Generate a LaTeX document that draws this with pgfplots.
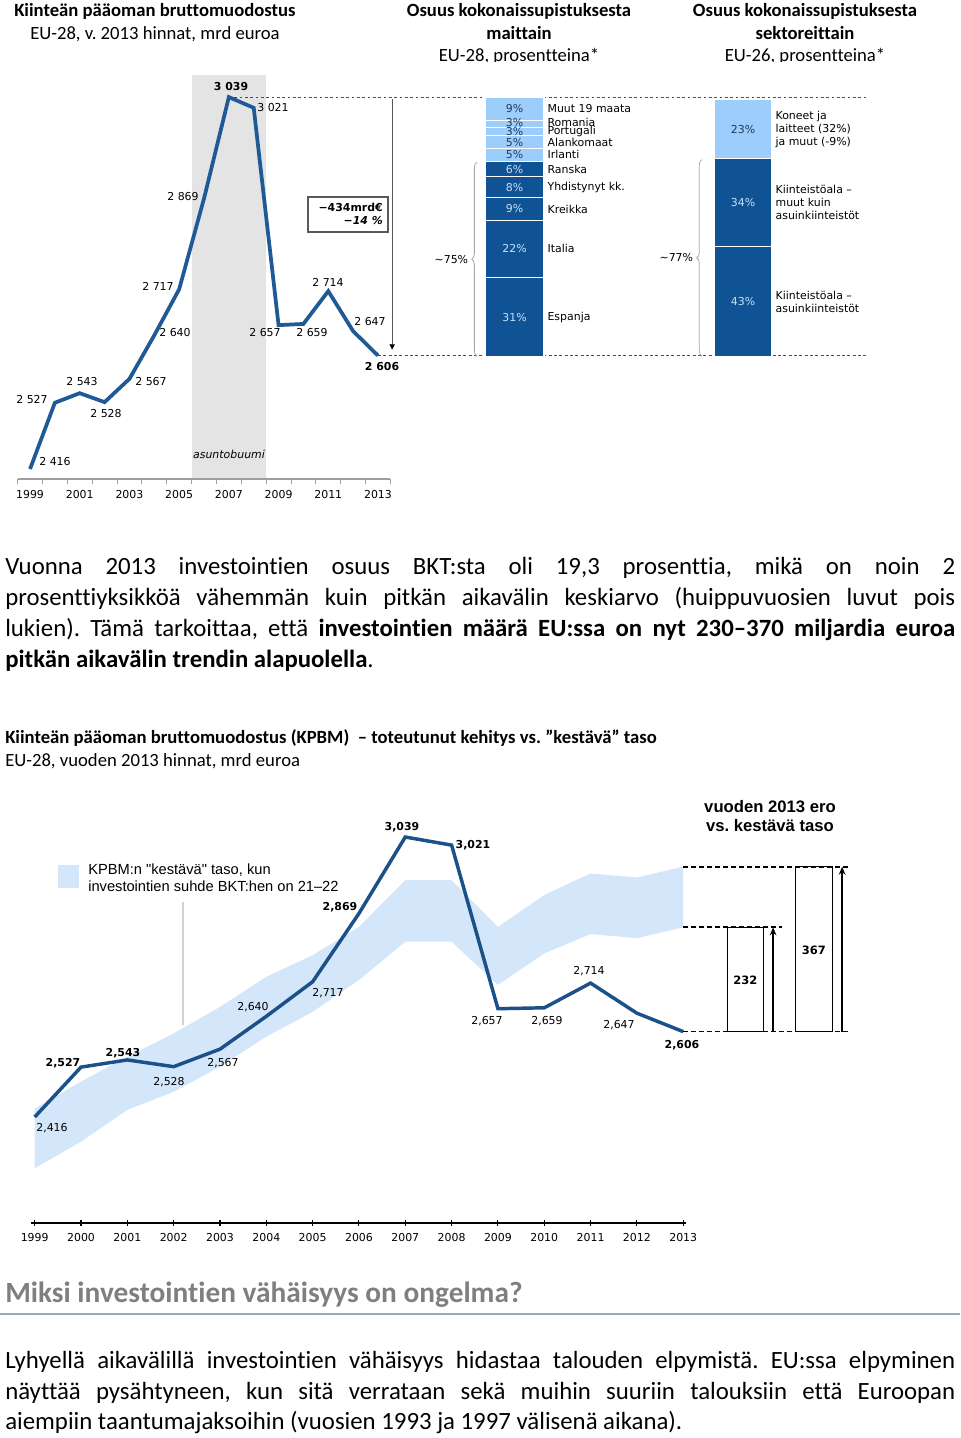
\documentclass[border=0pt]{standalone}
\usepackage{pgfplots}
\pgfplotsset{compat=1.18}
\usepackage{fontspec}
\setmainfont{Carlito}[Ligatures={NoCommon}]
\newfontfamily\dv{DejaVu Sans}
\newfontfamily\ls{Liberation Sans}
\usetikzlibrary{decorations.pathreplacing,arrows.meta}
\definecolor{lineA}{HTML}{1F5A96}
\definecolor{lineB}{HTML}{1B5089}
\definecolor{darkbar}{HTML}{105394}
\definecolor{lightbar}{HTML}{9DCDFB}
\definecolor{navytxt}{HTML}{1F3A60}
\definecolor{paletxt}{HTML}{C6DFF7}
\definecolor{boom}{HTML}{E4E4E4}
\definecolor{band}{HTML}{D3E6FA}
\definecolor{headgrey}{HTML}{7F7F7F}
\definecolor{rulecol}{HTML}{95A9BF}
\newcommand{\sz}[1]{\fontsize{#1}{#1}\selectfont}
\newcommand{\dq}{\char"22\relax}
\frenchspacing
\tikzset{
 lab/.style={font=\dv\sz{8.2},inner sep=0pt},
 labb/.style={font=\dv\bfseries\sz{8.2},inner sep=0pt},
 pctL/.style={font=\dv\sz{8.2},text=navytxt,inner sep=0pt},
 pctD/.style={font=\dv\sz{8.2},text=paletxt,inner sep=0pt},
 nm/.style={font=\dv\sz{8.2},anchor=west,inner sep=0pt,xshift=2.5pt},
 nmm/.style={font=\dv\fontsize{8.2}{9.75}\selectfont,anchor=west,align=left,inner sep=0pt,xshift=2.5pt},
}
\begin{document}
\begin{tikzpicture}[x=0.75pt,y=-0.75pt]
\useasboundingbox (0,0) rectangle (960,1438);
\coordinate (A1) at (17.6,479);
\coordinate (A2) at (400.25,357);
\coordinate (A3) at (31,1223);

% ---------------- titles of the top panels
\node[anchor=mid west,font=\bfseries\sz{14},inner sep=0pt] at (14,13) {Kiinteän pääoman bruttomuodostus};
\node[anchor=mid west,font=\sz{14},inner sep=0pt] at (30,36) {EU-28, v. 2013 hinnat, mrd euroa};
\node[anchor=mid,font=\bfseries\sz{14},inner sep=0pt] at (519,13) {Osuus kokonaissupistuksesta};
\node[anchor=mid,font=\bfseries\sz{14},inner sep=0pt] at (519,36) {maittain};
\node[anchor=mid,font=\sz{14},inner sep=0pt] at (519,58) {EU-28, prosentteina*};
\node[anchor=mid,font=\bfseries\sz{14},inner sep=0pt] at (805,13) {Osuus kokonaissupistuksesta};
\node[anchor=mid,font=\bfseries\sz{14},inner sep=0pt] at (805,36) {sektoreittain};
\node[anchor=mid,font=\sz{14},inner sep=0pt] at (805,58) {EU-26, prosentteina*};
\fill[white] (380,62.5) rectangle (960,72);

% ---------------- top line chart
\begin{axis}[at={(A1)},anchor=south west,scale only axis,
  width=279.6pt,height=303pt,
  xmin=1998.5,xmax=2013.5,ymin=2399.25,ymax=3076,
  clip=false,axis on top,
  axis y line=none,axis x line*=bottom,
  axis line style={draw=gray!75,line width=0.8pt,-},
  xtick={1999,2001,2003,2005,2007,2009,2011,2013},
  xticklabels={1999,2001,2003,2005,2007,2009,2011,2013},
  minor xtick={1998.5,1999.5,...,2013.5},
  major tick length=0pt,minor tick length=3.5pt,
  tick align=outside,tick style={gray!75,line width=0.6pt},
  xticklabel style={font=\dv\sz{8.2},yshift=-5pt},
  /pgf/number format/assume math mode=true]
\addplot[fill=boom,draw=none] coordinates {(2005.5,2399.25)(2008.5,2399.25)(2008.5,3076)(2005.5,3076)} -- cycle;
\addplot[gray!60!black,line width=0.6pt,dash pattern=on 2.2pt off 1.8pt] coordinates {(2007,3039)(2032.68,3039)};
\addplot[gray!60!black,line width=0.6pt,dash pattern=on 2.2pt off 1.8pt] coordinates {(2013,2606)(2032.68,2606)};
\addplot[gray!70!black,line width=0.6pt,-{Triangle[black,length=4pt,width=4pt]}] coordinates {(2013.57,3036)(2013.57,2616)};
\addplot[lineA,line width=2.8pt] coordinates {(1999,2416)(2000,2527)(2001,2543)(2002,2528)(2003,2567)(2004,2640)(2005,2717)(2006,2869)(2007,3039)(2008,3021)(2009,2657)(2010,2659)(2011,2714)(2012,2647)(2013,2606)};
\end{axis}
\node[lab] at (55,462) {2 416};
\node[lab] at (32,400) {2 527};
\node[lab] at (82,382) {2 543};
\node[lab] at (106,414) {2 528};
\node[lab] at (151,382) {2 567};
\node[lab] at (175,333) {2 640};
\node[lab] at (158,286) {2 717};
\node[lab] at (183,197) {2 869};
\node[labb] at (231,87) {3 039};
\node[lab] at (273,108) {3 021};
\node[lab] at (265,333) {2 657};
\node[lab] at (312,333) {2 659};
\node[lab] at (328,282) {2 714};
\node[lab] at (370,322) {2 647};
\node[labb] at (382,367) {2 606};
\node[font=\dv\itshape\sz{8.2},inner sep=0pt] at (229,454) {asuntobuumi};
\draw[gray!70!black,line width=0.8pt] (308,197) rectangle (388,232);
\node[anchor=mid east,font=\dv\bfseries\sz{8.2},inner sep=0pt] at (383,208) {−434mrd€};
\node[anchor=mid east,font=\dv\bfseries\itshape\sz{8.2},inner sep=0pt] at (383,221) {−14 \%};

% ---------------- stacked bars
\begin{axis}[at={(A2)},anchor=south west,scale only axis,
  width=342.75pt,height=195pt,xmin=-0.5,xmax=1.5,ymin=0,ymax=101,
  hide axis,clip=false]
% bar 1: maittain
\addplot[fill=darkbar,draw=white,line width=0.9pt] coordinates {(-0.129,0)(0.129,0)(0.129,31)(-0.129,31)} -- cycle;
\addplot[fill=darkbar,draw=white,line width=0.9pt] coordinates {(-0.129,31)(0.129,31)(0.129,53)(-0.129,53)} -- cycle;
\addplot[fill=darkbar,draw=white,line width=0.9pt] coordinates {(-0.129,53)(0.129,53)(0.129,62)(-0.129,62)} -- cycle;
\addplot[fill=darkbar,draw=white,line width=0.9pt] coordinates {(-0.129,62)(0.129,62)(0.129,70)(-0.129,70)} -- cycle;
\addplot[fill=darkbar,draw=white,line width=0.9pt] coordinates {(-0.129,70)(0.129,70)(0.129,76)(-0.129,76)} -- cycle;
\addplot[fill=lightbar,draw=white,line width=0.9pt] coordinates {(-0.129,76)(0.129,76)(0.129,81)(-0.129,81)} -- cycle;
\addplot[fill=lightbar,draw=white,line width=0.9pt] coordinates {(-0.129,81)(0.129,81)(0.129,86)(-0.129,86)} -- cycle;
\addplot[fill=lightbar,draw=white,line width=0.9pt] coordinates {(-0.129,86)(0.129,86)(0.129,89)(-0.129,89)} -- cycle;
\addplot[fill=lightbar,draw=white,line width=0.9pt] coordinates {(-0.129,89)(0.129,89)(0.129,92)(-0.129,92)} -- cycle;
\addplot[fill=lightbar,draw=white,line width=0.9pt] coordinates {(-0.129,92)(0.129,92)(0.129,101)(-0.129,101)} -- cycle;
% bar 2: sektoreittain
\addplot[fill=darkbar,draw=white,line width=0.9pt] coordinates {(0.873,0)(1.127,0)(1.127,43)(0.873,43)} -- cycle;
\addplot[fill=darkbar,draw=white,line width=0.9pt] coordinates {(0.873,43)(1.127,43)(1.127,77)(0.873,77)} -- cycle;
\addplot[fill=lightbar,draw=white,line width=0.9pt] coordinates {(0.873,77)(1.127,77)(1.127,100)(0.873,100)} -- cycle;
% percentages
\node[pctD] at (axis cs:0,15.5) {31\%};
\node[pctD] at (axis cs:0,42) {22\%};
\node[pctD] at (axis cs:0,57.5) {9\%};
\node[pctD] at (axis cs:0,66) {8\%};
\node[pctD] at (axis cs:0,73) {6\%};
\node[pctL] at (axis cs:0,78.5) {5\%};
\node[pctL] at (axis cs:0,83.5) {5\%};
\node[pctL] at (axis cs:0,87.5) {3\%};
\node[pctL] at (axis cs:0,91) {3\%};
\node[pctL] at (axis cs:0,96.5) {9\%};
\node[pctD] at (axis cs:1,21.5) {43\%};
\node[pctD] at (axis cs:1,60) {34\%};
\node[pctL] at (axis cs:1,88.5) {23\%};
% names
\node[nm] at (axis cs:0.129,15.5) {Espanja};
\node[nm] at (axis cs:0.129,42) {Italia};
\node[nm] at (axis cs:0.129,57.5) {Kreikka};
\node[nm] at (axis cs:0.129,66) {Yhdistynyt kk.};
\node[nm] at (axis cs:0.129,73) {Ranska};
\node[nm] at (axis cs:0.129,78.5) {Irlanti};
\node[nm] at (axis cs:0.129,83.5) {Alankomaat};
\node[nm] at (axis cs:0.129,87.7) {Portugali};
\node[nm] at (axis cs:0.129,91.2) {Romania};
\node[nm] at (axis cs:0.129,96.5) {Muut 19 maata};
\node[nmm] at (axis cs:1.127,21.5) {Kiinteistöala –\\asuinkiinteistöt};
\node[nmm] at (axis cs:1.127,60) {Kiinteistöala –\\muut kuin\\asuinkiinteistöt};
\node[nmm] at (axis cs:1.127,88.5) {Koneet ja\\laitteet (32\%)\\ja muut (-9\%)};
% braces
\draw[gray!70,line width=0.6pt,decorate,decoration={brace,amplitude=4pt}] (axis cs:-0.164,0.3) -- (axis cs:-0.164,75.7);
\node[lab,anchor=east] at (axis cs:-0.164,38) [xshift=-6.5pt] {\textasciitilde75\%};
\draw[gray!70,line width=0.6pt,decorate,decoration={brace,amplitude=4pt}] (axis cs:0.8206,0.3) -- (axis cs:0.8206,76.7);
\node[lab,anchor=east] at (axis cs:0.8206,38.5) [xshift=-6.5pt] {\textasciitilde77\%};
\end{axis}

% ---------------- paragraph 1
\begin{scope}[every node/.style={anchor=base west,inner sep=0pt,font=\sz{18.6}}]
\node at (5,574) {\makebox[712.5pt][s]{Vuonna 2013 investointien osuus BKT:sta oli 19,3 prosenttia, mikä on noin 2}};
\node at (5,605) {\makebox[712.5pt][s]{prosenttiyksikköä vähemmän kuin pitkän aikavälin keskiarvo (huippuvuosien luvut pois}};
\node at (5,636) {\makebox[712.5pt][s]{lukien). Tämä tarkoittaa, että \textbf{investointien määrä EU:ssa on nyt 230–370 miljardia euroa}}};
\node at (5,667) {\textbf{pitkän aikavälin trendin alapuolella}.};
\end{scope}

% ---------------- chart 2 titles
\node[anchor=mid west,font=\bfseries\sz{14},inner sep=0pt] at (5,740) {Kiinteän pääoman bruttomuodostus (KPBM) \ – toteutunut kehitys vs. \dq kestävä\dq\ taso};
\node[anchor=mid west,font=\sz{14},inner sep=0pt] at (5,763) {EU-28, vuoden 2013 hinnat, mrd euroa};

% ---------------- chart 2
\begin{axis}[at={(A3)},anchor=south west,scale only axis,
  width=491.25pt,height=302.25pt,
  xmin=1998.92,xmax=2013.06,ymin=2180.1,ymax=3076.9,
  clip=false,axis on top,
  axis y line=none,axis x line*=bottom,
  axis line style={black,line width=1.1pt,-},
  xtick={1999,2000,...,2013},
  xticklabels={1999,2000,2001,2002,2003,2004,2005,2006,2007,2008,2009,2010,2011,2012,2013},
  major tick length=4pt,tick align=center,tick style={black,line width=0.8pt},
  xticklabel style={font=\dv\sz{8.2},yshift=-2pt},
  /pgf/number format/assume math mode=true]
\addplot[fill=band,draw=none] coordinates {
 (1999,2435)(2000,2495)(2001,2550)(2002,2602)(2003,2661)(2004,2728)(2005,2776)(2006,2839)(2007,2943)(2008,2943)(2009,2839)(2010,2910)(2011,2958)(2012,2949)(2013,2973)
 (2013,2838)(2012,2814)(2011,2823)(2010,2780)(2009,2710)(2008,2806)(2007,2806)(2006,2721)(2005,2650)(2004,2595)(2003,2528)(2002,2472)(2001,2432)(2000,2361)(1999,2302)} -- cycle;
\addplot[lineB,line width=2.6pt] coordinates {(1999,2416)(2000,2527)(2001,2543)(2002,2528)(2003,2567)(2004,2640)(2005,2717)(2006,2869)(2007,3039)(2008,3021)(2009,2657)(2010,2659)(2011,2714)(2012,2647)(2013,2606)};
% gap to sustainable level in 2013
\addplot[fill=white,draw=black,line width=0.5pt] coordinates {(2013.95,2606)(2014.73,2606)(2014.73,2838)(2013.95,2838)} -- cycle;
\addplot[fill=white,draw=black,line width=0.5pt] coordinates {(2015.42,2606)(2016.22,2606)(2016.22,2973)(2015.42,2973)} -- cycle;
\addplot[black,line width=1.3pt,dash pattern=on 3.5pt off 2.5pt] coordinates {(2013,2973)(2016.61,2973)};
\addplot[black,line width=1.3pt,dash pattern=on 3.5pt off 2.5pt] coordinates {(2013,2838)(2015.14,2838)};
\addplot[black,line width=1.3pt,dash pattern=on 3.5pt off 2.5pt] coordinates {(2013,2606)(2016.61,2606)};
\addplot[black,line width=1.8pt,-{Stealth[length=6pt,width=5pt]}] coordinates {(2014.94,2606)(2014.94,2838)};
\addplot[black,line width=1.8pt,-{Stealth[length=6pt,width=5pt]}] coordinates {(2016.43,2606)(2016.43,2973)};
\node[font=\dv\bfseries\sz{8.6},inner sep=0pt] at (axis cs:2014.34,2720) {232};
\node[font=\dv\bfseries\sz{8.6},inner sep=0pt] at (axis cs:2015.82,2787) {367};
\end{axis}
\node[lab] at (52,1128) {2,416};
\node[labb] at (63,1063) {2,527};
\node[labb] at (123,1053) {2,543};
\node[lab] at (169,1082) {2,528};
\node[lab] at (223,1063) {2,567};
\node[lab] at (253,1007) {2,640};
\node[lab] at (328,993) {2,717};
\node[labb] at (340,907) {2,869};
\node[labb] at (402,827) {3,039};
\node[labb] at (473,845) {3,021};
\node[lab] at (487,1021) {2,657};
\node[lab] at (547,1021) {2,659};
\node[lab] at (589,971) {2,714};
\node[lab] at (619,1025) {2,647};
\node[labb] at (682,1045) {2,606};
% legend
\fill[band] (58,865) rectangle (79,888);
\node[anchor=mid west,font=\ls\sz{11},inner sep=0pt] at (88,871) {KPBM:n \dq kestävä\dq\ taso, kun};
\node[anchor=mid west,font=\ls\sz{11},inner sep=0pt] at (88,888) {investointien suhde BKT:hen on 21–22};
\draw[gray!35,line width=0.8pt] (183,902) -- (183,1025);
\node[anchor=mid,font=\ls\bfseries\sz{12.5},inner sep=0pt] at (770,809) {vuoden 2013 ero};
\node[anchor=mid,font=\ls\bfseries\sz{12.5},inner sep=0pt] at (770,828) {vs. kestävä taso};

% ---------------- heading and paragraph 2
\node[anchor=mid west,font=\bfseries\sz{22},text=headgrey,inner sep=0pt] at (5,1299) {Miksi investointien vähäisyys on ongelma?};
\draw[rulecol,line width=1.5pt] (0,1314) -- (960,1314);
\begin{scope}[every node/.style={anchor=base west,inner sep=0pt,font=\sz{18.6}}]
\node at (5,1368) {\makebox[712.5pt][s]{Lyhyellä aikavälillä investointien vähäisyys hidastaa talouden elpymistä. EU:ssa elpyminen}};
\node at (5,1399) {\makebox[712.5pt][s]{näyttää pysähtyneen, kun sitä verrataan sekä muihin suuriin talouksiin että Euroopan}};
\node at (5,1429) {aiempiin taantumajaksoihin (vuosien 1993 ja 1997 välisenä aikana).};
\end{scope}
\end{tikzpicture}
\end{document}
